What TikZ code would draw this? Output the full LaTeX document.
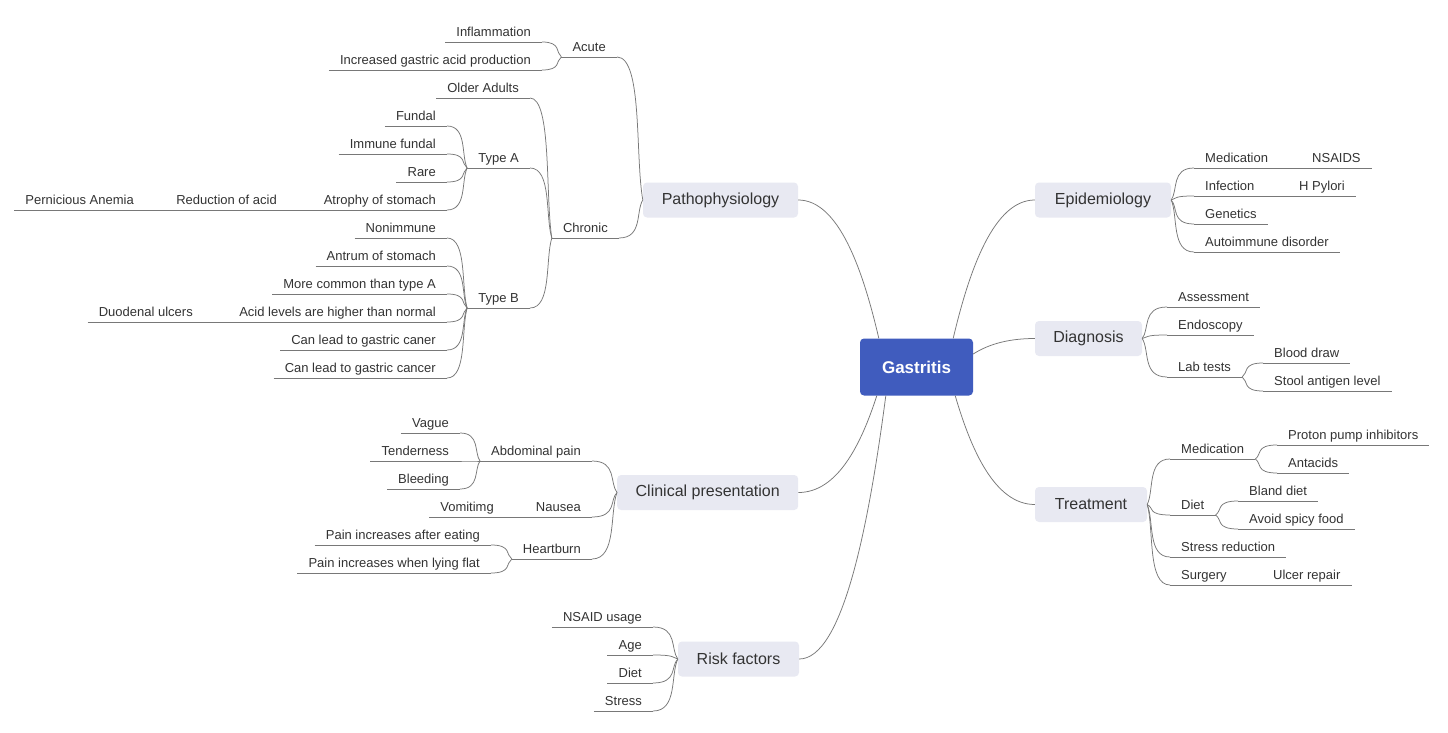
\documentclass[tikz,border=0pt]{standalone}
\usepackage{fontspec}
\setmainfont{Liberation Sans}
\usetikzlibrary{calc}
\definecolor{hubfill}{RGB}{64,92,190}
\definecolor{topicfill}{RGB}{232,233,242}
\definecolor{txt}{RGB}{51,51,51}
\definecolor{linec}{RGB}{120,120,120}
\newcommand\mmconn[2]{\draw[conn] let \p1=(#1), \p2=(#2) in (\p1) .. controls (\x2,\y1) and ($(\p2)!0.3!(\p1)$) .. (\p2);}
\newcommand\hubconn[2]{\draw[conn] let \p1=(#1), \p2=(#2) in (\p1) .. controls ($(\p1)+({0.2*(\x2-\x1)},{0.5*(\y2-\y1)})$) and ({0.5*(\x1+\x2)},\y2) .. (\p2);}
\begin{document}
\begin{tikzpicture}[x=1pt,y=-1pt,
  conn/.style={draw=linec,line width=0.75pt},
  hub/.style={rounded corners=4pt,fill=hubfill,text=white,font=\fontsize{17}{19}\selectfont\bfseries,inner sep=0pt,minimum height=57pt},
  topic/.style={rounded corners=4pt,fill=topicfill,text=txt,font=\fontsize{16}{19}\selectfont,inner sep=0pt,minimum height=35pt},
  leaf/.style={text=txt,font=\fontsize{13}{15}\selectfont,inner xsep=11pt,inner ysep=5pt,text height=10pt,text depth=0pt},
  lnode/.style={leaf,anchor=south east},
  rnode/.style={leaf,anchor=south west}]
\useasboundingbox (0,0) rectangle (1448,733);
\fill[white] (0,0) rectangle (1448,733);

% hub and topics
\node[hub,minimum width=113pt] (g) at (916.5,367) {Gastritis};
\node[topic,minimum width=155pt] (patho) at (720.5,200) {Pathophysiology};
\node[topic,minimum width=136pt] (epi) at (1103,200) {Epidemiology};
\node[topic,minimum width=107pt] (diag) at (1088.5,338.5) {Diagnosis};
\node[topic,minimum width=112pt] (treat) at (1091,504.5) {Treatment};
\node[topic,minimum width=181pt] (clin) at (707.7,492.5) {Clinical presentation};
\node[topic,minimum width=121pt] (risk) at (738.5,659) {Risk factors};

\coordinate (gPa) at ([xshift=19pt]g.north west);
\coordinate (gEp) at ([xshift=-20pt]g.north east);
\coordinate (gDi) at ([yshift=13pt]g.east);
\coordinate (gTr) at ([xshift=-18pt]g.south east);
\coordinate (gCl) at ([xshift=17pt]g.south west);
\coordinate (gRi) at ([xshift=26pt]g.south west);

% Pathophysiology
\node[lnode] (acute) at (617,57) {Acute};
\node[lnode] (inflam) at (542,42) {Inflammation};
\node[lnode] (incr) at (542,70) {Increased gastric acid production};
\node[lnode] (chronic) at (619,238) {Chronic};
\node[lnode] (older) at (530,98) {Older Adults};
\node[lnode] (typeA) at (530,168) {Type A};
\node[lnode] (typeB) at (530,308) {Type B};
\node[lnode] (fundal) at (447,126) {Fundal};
\node[lnode] (immune) at (447,154) {Immune fundal};
\node[lnode] (rare) at (447,182) {Rare};
\node[lnode] (atrophy) at (447,210) {Atrophy of stomach};
\node[lnode] (reduction) at (288,210) {Reduction of acid};
\node[lnode] (pernicious) at (145,210) {Pernicious Anemia};
\node[lnode] (nonimm) at (447,238) {Nonimmune};
\node[lnode] (antrum) at (447,266) {Antrum of stomach};
\node[lnode] (morecommon) at (447,294) {More common than type A};
\node[lnode] (acidlev) at (447,322) {Acid levels are higher than normal};
\node[lnode] (duodenal) at (204,322) {Duodenal ulcers};
\node[lnode] (caner) at (447,350) {Can lead to gastric caner};
\node[lnode] (cancer) at (447,378) {Can lead to gastric cancer};

% Clinical presentation
\node[lnode] (abd) at (592,461) {Abdominal pain};
\node[lnode] (vague) at (460,433) {Vague};
\node[lnode] (tender) at (460,461) {Tenderness};
\node[lnode] (bleed) at (460,489) {Bleeding};
\node[lnode] (nausea) at (592,517) {Nausea};
\node[lnode] (vomit) at (505,517) {Vomitimg};
\node[lnode] (heart) at (592,559) {Heartburn};
\node[lnode] (after) at (491,545) {Pain increases after eating};
\node[lnode] (flat) at (491,573) {Pain increases when lying flat};

% Risk factors
\node[lnode] (nsaid) at (653,627) {NSAID usage};
\node[lnode] (age) at (653,655) {Age};
\node[lnode] (rdiet) at (653,683) {Diet};
\node[lnode] (stress) at (653,711) {Stress};

% Epidemiology
\node[rnode] (emed) at (1194,168) {Medication};
\node[rnode] (nsaids) at (1301,168) {NSAIDS};
\node[rnode] (infect) at (1194,196) {Infection};
\node[rnode] (hpylori) at (1288,196) {H Pylori};
\node[rnode] (genetics) at (1194,224) {Genetics};
\node[rnode] (autoimm) at (1194,252) {Autoimmune disorder};

% Diagnosis
\node[rnode] (assess) at (1167,307) {Assessment};
\node[rnode] (endo) at (1167,335) {Endoscopy};
\node[rnode] (lab) at (1167,377) {Lab tests};
\node[rnode] (blood) at (1263,363) {Blood draw};
\node[rnode] (stool) at (1263,391) {Stool antigen level};

% Treatment
\node[rnode] (tmed) at (1170,459) {Medication};
\node[rnode] (ppi) at (1277,445) {Proton pump inhibitors};
\node[rnode] (antacid) at (1277,473) {Antacids};
\node[rnode] (diet) at (1170,515) {Diet};
\node[rnode] (bland) at (1238,501) {Bland diet};
\node[rnode] (spicy) at (1238,529) {Avoid spicy food};
\node[rnode] (stressr) at (1170,557) {Stress reduction};
\node[rnode] (surgery) at (1170,585) {Surgery};
\node[rnode] (ulcer) at (1262,585) {Ulcer repair};

% underlines
\foreach \nm in {acute,inflam,incr,chronic,older,typeA,typeB,fundal,immune,rare,atrophy,reduction,pernicious,nonimm,antrum,morecommon,acidlev,duodenal,caner,cancer,abd,vague,tender,bleed,nausea,vomit,heart,after,flat,nsaid,age,rdiet,stress,emed,nsaids,infect,hpylori,genetics,autoimm,assess,endo,lab,blood,stool,tmed,ppi,antacid,diet,bland,spicy,stressr,surgery,ulcer}
  \draw[conn] (\nm.south west) -- (\nm.south east);

% hub connectors
\hubconn{gPa}{patho.east}
\hubconn{gEp}{epi.west}
\hubconn{gDi}{diag.west}
\hubconn{gTr}{treat.west}
\hubconn{gCl}{clin.east}
\hubconn{gRi}{risk.east}

% Pathophysiology branch
\mmconn{acute.south east}{patho.west}
\mmconn{chronic.south east}{patho.west}
\mmconn{inflam.south east}{acute.south west}
\mmconn{incr.south east}{acute.south west}
\mmconn{older.south east}{chronic.south west}
\mmconn{typeA.south east}{chronic.south west}
\mmconn{typeB.south east}{chronic.south west}
\foreach \nm in {fundal,immune,rare,atrophy} {\mmconn{\nm.south east}{typeA.south west}}
\foreach \nm in {nonimm,antrum,morecommon,acidlev,caner,cancer} {\mmconn{\nm.south east}{typeB.south west}}
\draw[conn] (reduction.south east) -- (atrophy.south west);
\draw[conn] (pernicious.south east) -- (reduction.south west);
\draw[conn] (duodenal.south east) -- (acidlev.south west);

% Clinical branch
\foreach \nm in {abd,nausea,heart} {\mmconn{\nm.south east}{clin.west}}
\foreach \nm in {vague,tender,bleed} {\mmconn{\nm.south east}{abd.south west}}
\draw[conn] (vomit.south east) -- (nausea.south west);
\foreach \nm in {after,flat} {\mmconn{\nm.south east}{heart.south west}}

% Risk branch
\foreach \nm in {nsaid,age,rdiet,stress} {\mmconn{\nm.south east}{risk.west}}

% Epidemiology branch
\foreach \nm in {emed,infect,genetics,autoimm} {\mmconn{\nm.south west}{epi.east}}
\draw[conn] (emed.south east) -- (nsaids.south west);
\draw[conn] (infect.south east) -- (hpylori.south west);

% Diagnosis branch
\foreach \nm in {assess,endo,lab} {\mmconn{\nm.south west}{diag.east}}
\foreach \nm in {blood,stool} {\mmconn{\nm.south west}{lab.south east}}

% Treatment branch
\foreach \nm in {tmed,diet,stressr,surgery} {\mmconn{\nm.south west}{treat.east}}
\foreach \nm in {ppi,antacid} {\mmconn{\nm.south west}{tmed.south east}}
\foreach \nm in {bland,spicy} {\mmconn{\nm.south west}{diet.south east}}
\draw[conn] (surgery.south east) -- (ulcer.south west);
\end{tikzpicture}
\end{document}
